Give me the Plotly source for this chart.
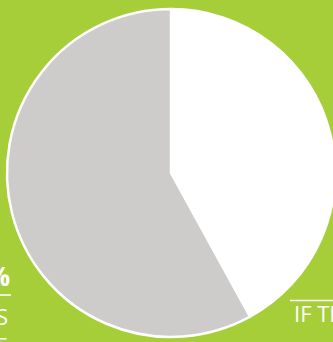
import plotly.graph_objects as go

labels = ["White", "Gray"]
values = [42, 58]
colors = ["#ffffff", "#cdcccb"]
W, H = 345, 342
GREEN = "#a6ce39"

fig = go.Figure(go.Pie(
    labels=labels, values=values, sort=False, direction="clockwise", rotation=0,
    marker=dict(colors=colors, line=dict(color="#ffffff", width=2.5)),
    textinfo="none", hoverinfo="none", showlegend=False,
    domain=dict(x=[7 / W, 335 / W], y=[(H - 337) / H, (H - 9) / H]),
))

def px(x):
    return x / W

def py(y):
    return 1 - y / H

ann = []
ann.append(dict(text="<b>42%</b>", x=px(12), y=py(276), xanchor="right", yanchor="middle"))
ann.append(dict(text="YEARS", x=px(10), y=py(316), xanchor="right", yanchor="middle"))
ann.append(dict(text="ARE", x=px(10), y=py(345), xanchor="right", yanchor="middle"))
ann.append(dict(text="IF THE", x=px(292), y=py(313), xanchor="left", yanchor="middle"))
for a in ann:
    a.update(xref="paper", yref="paper", showarrow=False,
             font=dict(family="Open Sans", size=22, color="#ffffff"))
ann[0]["font"]["size"] = 26

fig.update_layout(
    width=W, height=H, margin=dict(l=0, r=0, t=0, b=0),
    paper_bgcolor=GREEN, plot_bgcolor=GREEN,
    annotations=ann,
    shapes=[
        dict(type="line", xref="paper", yref="paper", x0=px(-5), x1=px(11), y0=py(295), y1=py(295),
             line=dict(color="#ffffff", width=1.5)),
        dict(type="line", xref="paper", yref="paper", x0=px(290), x1=px(350), y0=py(300.5), y1=py(300.5),
             line=dict(color="#ffffff", width=1.5)),
    ],
)
fig.write_html("out.html")
